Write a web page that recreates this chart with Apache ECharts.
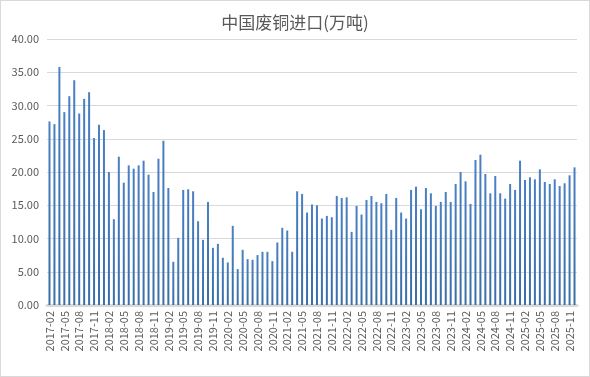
<!DOCTYPE html>
<html>
<head>
<meta charset="utf-8">
<script src="https://cdn.jsdelivr.net/npm/echarts@6/dist/echarts.min.js"></script>
<style>
html, body { margin: 0; padding: 0; background: #fff; }
#chart { width: 588px; height: 375px; border: 1px solid #d9d9d9; }
</style>
</head>
<body>
<div id="chart"></div>
<script>
var title = '中国废铜进口(万吨)';

// 2017-02 .. 2025-12
var months = [];
for (var y = 2017; y <= 2025; y++) {
	for (var m = (y == 2017 ? 2 : 1); m <= 12; m++) {
		months.push(y + '-' + (m < 10 ? '0' + m : m));
	}
}

var imports = [
	27.6, 27.2, 35.8, 29.0, 31.4, 33.8, 28.8, 31.0, 32.0, 25.1, 27.1,
	26.3, 20.0, 12.9, 22.3, 18.4, 21.0, 20.5, 21.0, 21.7, 19.6, 17.0, 22.0,
	24.7, 17.6, 6.5, 10.1, 17.3, 17.4, 17.1, 12.6, 9.8, 15.5, 8.6, 9.2,
	7.1, 6.4, 11.9, 5.4, 8.3, 6.9, 6.8, 7.5, 8.0, 8.0, 6.6, 9.4,
	11.6, 11.2, 8.0, 17.1, 16.7, 13.9, 15.1, 15.0, 13.0, 13.4, 13.2, 16.4,
	16.1, 16.2, 11.0, 14.9, 13.6, 15.8, 16.4, 15.5, 15.3, 16.7, 11.3, 16.1,
	13.9, 13.0, 17.3, 17.8, 14.4, 17.6, 16.8, 14.9, 15.5, 17.0, 15.5, 18.2,
	20.0, 18.6, 15.2, 21.8, 22.6, 19.7, 16.8, 19.4, 16.8, 16.0, 18.2, 17.3,
	21.7, 18.8, 19.2, 18.9, 20.4, 18.5, 18.2, 18.9, 17.9, 18.3, 19.5, 20.7
];

var yTicks = { min: 0, max: 40, interval: 5 };

var font = '"Noto Sans CJK SC", "Liberation Sans", sans-serif';

var option = {
	animation: false,
	title: {
		text: title,
		left: 'center',
		top: 8,
		textStyle: { fontFamily: font, fontSize: 17, fontWeight: 'normal', color: '#595959' }
	},
	grid: { left: 46, right: 12, top: 38, bottom: 71 },
	xAxis: {
		type: 'category',
		data: months,
		boundaryGap: true,
		axisLine: { lineStyle: { color: '#d9d9d9', width: 3 } },
		axisTick: { show: false },
		axisLabel: {
			interval: 2,
			rotate: 90,
			fontFamily: font,
			fontSize: 11,
			color: '#595959',
			margin: 6
		}
	},
	yAxis: {
		type: 'value',
		min: yTicks.min,
		max: yTicks.max,
		interval: yTicks.interval,
		axisLine: { show: false },
		axisTick: { show: false },
		splitLine: { lineStyle: { color: '#d9d9d9', width: 1 } },
		axisLabel: {
			formatter: function (v) { return v.toFixed(2); },
			fontFamily: font,
			fontSize: 11,
			color: '#595959',
			margin: 8
		}
	},
	series: [{
		name: title,
		type: 'bar',
		data: imports,
		barWidth: 2,
		itemStyle: {
			color: new echarts.graphic.LinearGradient(0, 0, 0, 1, [
				{ offset: 0, color: '#4a80c4' },
				{ offset: 1, color: '#3a6ea8' }
			])
		}
	}]
};

var myChart = echarts.init(document.getElementById('chart'));
myChart.setOption(option);
</script>
</body>
</html>
